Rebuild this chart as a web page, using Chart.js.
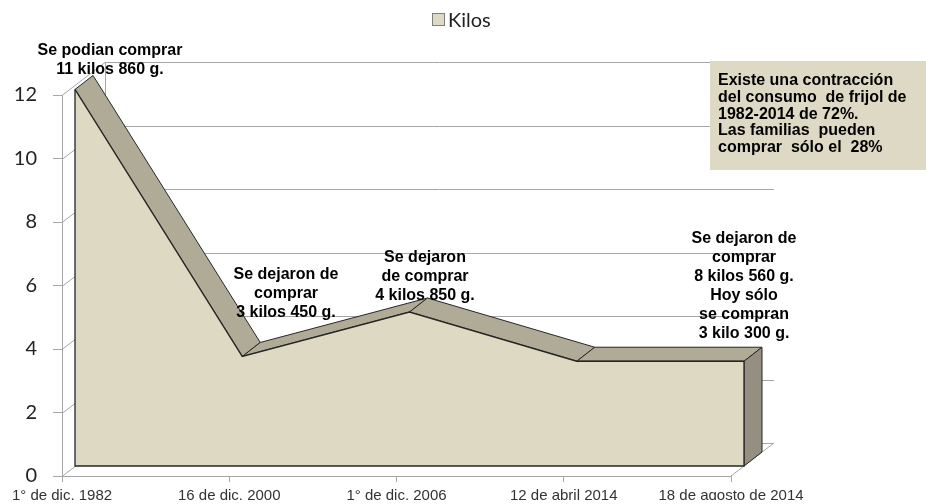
<!DOCTYPE html>
<html>
<head>
<meta charset="utf-8">
<script src="https://cdn.jsdelivr.net/npm/chart.js@4.4.1/dist/chart.umd.min.js"></script>
<style>
  html, body { margin: 0; padding: 0; background: #fff; }
  #wrap { width: 926px; height: 504px; }
</style>
</head>
<body>
<div id="wrap"><canvas id="myChart" width="926" height="504"></canvas></div>
<script>
"use strict";

// Data
const categories = ["1° de dic. 1982", "16 de dic. 2000", "1° de dic. 2006", "12 de abril 2014", "18 de agosto de 2014"];
const kilos = [11.86, 3.45, 4.85, 3.3, 3.3];
const yTicks = [0, 2, 4, 6, 8, 10, 12];
const legendLabel = "Kilos";

// Callout texts
const noteLines = [
  ["Se podian comprar", "11 kilos 860 g."],
  ["Se dejaron de", "comprar", "3 kilos 450 g."],
  ["Se dejaron", "de comprar", "4 kilos 850 g."],
  ["Se dejaron de", "comprar", "8 kilos 560 g.", "Hoy sólo", "se compran", "3 kilo 300 g."]
];
const boxLines = [
  "Existe una contracción",
  "del consumo  de frijol de",
  "1982-2014 de 72%.",
  "Las familias  pueden",
  "comprar  sólo el  28%"
];

// Fake 3D offsets (Excel style depth)
const FRONT = { x: 13, y: -10 };
const BACK = { x: 31, y: -24 };
const WALL = { x: 43, y: -33 };

const TAN = "#DDD9C3";
const GRID = "#A6A6A6";

const threeD = {
  id: "threeD",
  beforeDatasetsDraw(chart) {
    const { ctx, chartArea: a, scales: { x, y } } = chart;
    ctx.save();
    // back wall grid + left wall diagonals
    ctx.strokeStyle = GRID;
    ctx.lineWidth = 1;
    yTicks.forEach((v) => {
      const py = Math.round(y.getPixelForValue(v)) + 0.5;
      ctx.beginPath();
      ctx.moveTo(a.left, py);
      ctx.lineTo(a.left + WALL.x, py + WALL.y);
      ctx.lineTo(a.right + WALL.x, py + WALL.y);
      ctx.stroke();
    });
    ctx.beginPath();
    ctx.moveTo(a.left + WALL.x + 0.5, a.top + WALL.y);
    ctx.lineTo(a.left + WALL.x + 0.5, a.bottom + WALL.y);
    ctx.moveTo(a.right, a.bottom);
    ctx.lineTo(a.right + WALL.x, a.bottom + WALL.y);
    ctx.stroke();

    // top bevel of the area and right side
    const pts = kilos.map((v, i) => ({
      x: x.getPixelForValue(i) + FRONT.x,
      y: y.getPixelForValue(v) + FRONT.y
    }));
    const dx = BACK.x - FRONT.x;
    const dy = BACK.y - FRONT.y;
    ctx.strokeStyle = "#262626";
    ctx.lineWidth = 1;
    ctx.lineJoin = "round";
    ctx.fillStyle = "#AFAB97";
    for (let i = 0; i < pts.length - 1; i++) {
      const p = pts[i], q = pts[i + 1];
      ctx.beginPath();
      ctx.moveTo(p.x, p.y);
      ctx.lineTo(q.x, q.y);
      ctx.lineTo(q.x + dx, q.y + dy);
      ctx.lineTo(p.x + dx, p.y + dy);
      ctx.closePath();
      ctx.fill();
      ctx.stroke();
    }
    const last = pts[pts.length - 1];
    const base = y.getPixelForValue(0) + FRONT.y;
    ctx.fillStyle = "#948F80";
    ctx.beginPath();
    ctx.moveTo(last.x, last.y);
    ctx.lineTo(last.x, base);
    ctx.lineTo(last.x + dx, base + dy);
    ctx.lineTo(last.x + dx, last.y + dy);
    ctx.closePath();
    ctx.fill();
    ctx.stroke();
    ctx.restore();

    // front face is drawn by Chart.js, shifted into depth
    ctx.save();
    ctx.translate(FRONT.x, FRONT.y);
  },
  afterDatasetsDraw(chart) {
    const { ctx, scales: { x, y } } = chart;
    const n = kilos.length - 1;
    const x0 = x.getPixelForValue(0);
    const xn = x.getPixelForValue(n);
    const b = y.getPixelForValue(0);
    ctx.strokeStyle = "#262626";
    ctx.lineWidth = 1.3;
    ctx.beginPath();
    ctx.moveTo(x0, y.getPixelForValue(kilos[0]));
    ctx.lineTo(x0, b);
    ctx.lineTo(xn, b);
    ctx.lineTo(xn, y.getPixelForValue(kilos[n]));
    ctx.stroke();
    ctx.restore();
  },
  afterDraw(chart) {
    const { ctx } = chart;
    ctx.save();

    // legend
    ctx.fillStyle = TAN;
    ctx.fillRect(432.5, 13.5, 12, 12);
    ctx.strokeStyle = "#7F7F7F";
    ctx.lineWidth = 1;
    ctx.strokeRect(432.5, 13.5, 12, 12);
    ctx.fillStyle = "#222";
    ctx.font = "20px Lato";
    ctx.textAlign = "left";
    ctx.textBaseline = "alphabetic";
    ctx.fillText(legendLabel, 448, 27);

    // callouts
    const anchors = [
      { x: 110, y: 55 },
      { x: 286, y: 279 },
      { x: 425, y: 262 },
      { x: 744, y: 243 }
    ];
    ctx.font = "bold 16px 'Liberation Sans', Arial, sans-serif";
    ctx.textAlign = "center";
    ctx.fillStyle = "#000";
    noteLines.forEach((lines, k) => {
      lines.forEach((t, j) => {
        ctx.fillText(t, anchors[k].x, anchors[k].y + j * 19);
      });
    });

    // text box
    ctx.fillStyle = "#DDD9C4";
    ctx.fillRect(710, 61, 216, 109);
    ctx.fillStyle = "#000";
    ctx.textAlign = "left";
    ctx.font = "bold 16px 'Liberation Sans', Arial, sans-serif";
    boxLines.forEach((t, j) => {
      ctx.fillText(t, 718, 85 + j * 16.8);
    });
    ctx.restore();
  }
};

const ctx = document.getElementById("myChart").getContext("2d");
const myChart = new Chart(ctx, {
  type: "line",
  data: {
    labels: categories,
    datasets: [
      {
        label: legendLabel,
        data: kilos,
        fill: "origin",
        backgroundColor: TAN,
        borderColor: "#262626",
        borderWidth: 1.3,
        pointRadius: 0,
        tension: 0,
        clip: false
      }
    ]
  },
  options: {
    responsive: false,
    animation: false,
    devicePixelRatio: 1,
    layout: {
      padding: { top: 95, right: 195, left: 0, bottom: 0 }
    },
    plugins: {
      legend: { display: false },
      tooltip: { enabled: false }
    },
    scales: {
      x: {
        type: "category",
        offset: false,
        afterFit: (s) => { s.height = 24; },
        grid: { drawOnChartArea: false, tickLength: 6, color: GRID },
        border: { color: GRID },
        ticks: {
          autoSkip: false,
          maxRotation: 0,
          padding: 5,
          color: "#333",
          font: { family: "'Liberation Sans', Arial, sans-serif", size: 15 }
        }
      },
      y: {
        min: 0,
        max: 12,
        afterFit: (s) => { s.width = 62; },
        afterBuildTicks: (s) => { s.ticks = yTicks.map((v) => ({ value: v })); },
        grid: { drawOnChartArea: false, tickLength: 9, color: GRID },
        border: { color: GRID },
        ticks: {
          padding: 16,
          color: "#222",
          font: { family: "Lato", size: 20 }
        }
      }
    }
  },
  plugins: [threeD]
});
</script>
</body>
</html>
